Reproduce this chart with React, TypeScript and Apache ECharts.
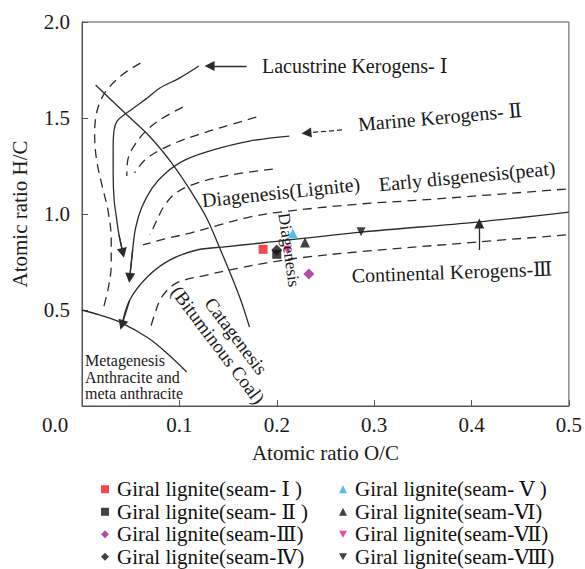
import React, { useEffect, useRef } from 'react';
import * as echarts from 'echarts';

const FONT = 'Liberation Serif, DejaVu Serif, serif';

// Axis ticks
const xTickValues = [0, 0.1, 0.2, 0.3, 0.4, 0.5];
const yTickValues = [0, 0.5, 1.0, 1.5, 2.0];
const cornerLabel = '0.0';

// Sample data (O/C, H/C)
const seamNames = [
  'Giral lignite(seam- Ⅰ )',
  'Giral lignite(seam- Ⅱ )',
  'Giral lignite(seam-Ⅲ)',
  'Giral lignite(seam-Ⅳ)',
  'Giral lignite(seam- Ⅴ )',
  'Giral lignite(seam-Ⅵ)',
  'Giral lignite(seam-Ⅶ)',
  'Giral lignite(seam-Ⅷ)',
];
const seamOC = [0.186, 0.2, 0.233, 0.2, 0.2165, 0.229, 0.211, 0.2866];
const seamHC = [0.816, 0.79, 0.6875, 0.812, 0.899, 0.851, 0.8125, 0.908];
const DOWN = 'path://M0,0L10,0L5,9Z';
const seamSymbols = ['rect', 'rect', 'diamond', 'diamond', 'triangle', 'triangle', DOWN, DOWN];
const seamColors = ['#ee1c24', '#111111', '#a3218e', '#111111', '#29abe2', '#111111', '#ec1b8c', '#111111'];
const seamSizes = [9, 9, 11, 11, 10, 10, 9, 9];

// Van Krevelen background curves (O/C, H/C)
const typeI = [[0.120, 1.771], [0.100, 1.708], [0.080, 1.656], [0.067, 1.604], [0.053, 1.552], [0.043, 1.516], [0.036, 1.484], [0.033, 1.4375], [0.032, 1.349], [0.032, 1.203], [0.033, 1.073], [0.035, 0.995], [0.038, 0.891], [0.042, 0.797]];
const typeII = [[0.213, 1.406], [0.172, 1.380], [0.134, 1.333], [0.1055, 1.281], [0.086, 1.214], [0.072, 1.135], [0.0615, 1.036], [0.055, 0.927], [0.052, 0.8125], [0.049, 0.667]];
const typeIII = [[0.5, 1.010], [0.406, 0.958], [0.287, 0.906], [0.184, 0.849], [0.1445, 0.828], [0.118, 0.8125], [0.090, 0.760], [0.067, 0.672], [0.049, 0.552], [0.041, 0.422]];
const metagenesis = [[0, 0.5], [0.018, 0.474], [0.041, 0.432], [0.068, 0.354], [0.087, 0.276], [0.1076, 0.177]];
const boundary = [[0.014, 1.672], [0.043, 1.531], [0.070, 1.401], [0.092, 1.266], [0.113, 1.109], [0.128, 0.979], [0.141, 0.828], [0.153, 0.682], [0.163, 0.552], [0.172, 0.411]];
const dashA = [[0.060, 1.786], [0.041, 1.724], [0.0256, 1.646], [0.018, 1.578], [0.014, 1.5], [0.013, 1.411], [0.015, 1.281], [0.0205, 1.151], [0.027, 1.010], [0.030, 0.865], [0.030, 0.734], [0.027, 0.615], [0.0215, 0.5]];
const dashB = [[0.1035, 1.557], [0.083, 1.5], [0.0666, 1.4375], [0.054, 1.359], [0.047, 1.281], [0.046, 1.198]];
const dashC = [[0.179, 1.505], [0.1445, 1.453], [0.118, 1.411], [0.098, 1.375], [0.080, 1.333], [0.0645, 1.281], [0.054, 1.214]];
const dashF = [[0.196, 1.234], [0.152, 1.203], [0.118, 1.161], [0.098, 1.115], [0.085, 1.047], [0.077, 0.969], [0.070, 0.891]];
const dashG = [[0.497, 1.130], [0.349, 1.073], [0.285, 1.052], [0.203, 1.010], [0.172, 0.984], [0.141, 0.943], [0.111, 0.901], [0.085, 0.870], [0.0625, 0.839]];
const dashH = [[0.497, 0.891], [0.406, 0.854], [0.282, 0.802], [0.223, 0.771], [0.1895, 0.745], [0.162, 0.719], [0.128, 0.682], [0.0973, 0.641], [0.082, 0.568], [0.075, 0.484], [0.0697, 0.396]];
const lacustrineArrow = [[0.169, 1.771], [0.131, 1.771]];
const marineArrow = [[0.267, 1.438], [0.2305, 1.422]];
const upArrow = [[0.408, 0.8125], [0.408, 0.950]];

const LINE = '#2b2b2b';

function curve(data: number[][], dashed: boolean) {
  return {
    type: 'line',
    data,
    showSymbol: false,
    symbol: 'none',
    smooth: 0.35,
    silent: true,
    z: 1,
    lineStyle: { color: LINE, width: 1.3, type: dashed ? [9, 6] : 'solid' },
  };
}

function arrow(a: number[], b: number[], dashed: boolean) {
  return {
    type: 'lines',
    coordinateSystem: 'cartesian2d',
    symbol: ['none', 'triangle'],
    symbolSize: [5, 10],
    silent: true,
    z: 2,
    lineStyle: { color: LINE, width: 1.3, type: dashed ? [5, 3] : 'solid', opacity: 1 },
    data: [{ coords: [a, b] }],
  };
}

function lastTwo(d: number[][]) {
  return [d[d.length - 2], d[d.length - 1]];
}

function txt(text: string, x: number, y: number, size: number, rotDeg = 0, align = 'center') {
  return {
    type: 'text',
    x,
    y,
    rotation: (rotDeg * Math.PI) / 180,
    z: 5,
    style: { text, fontFamily: FONT, fontSize: size, fill: '#1a1a1a', align, verticalAlign: 'middle' },
  };
}

export default function App() {
  const ref = useRef<HTMLDivElement>(null);
  useEffect(() => {
    if (!ref.current) return;
    const chart = echarts.init(ref.current, null, { renderer: 'svg' });
    const scatter = seamNames.map((name, i) => ({
      type: 'scatter',
      name,
      data: [[seamOC[i], seamHC[i]]],
      symbol: seamSymbols[i],
      symbolSize: seamSizes[i],
      itemStyle: { color: seamColors[i] },
      z: 4,
    }));
    const [t1a, t1b] = lastTwo(typeI);
    const [t2a, t2b] = lastTwo(typeII);
    const [t3a, t3b] = lastTwo(typeIII);
    const legendBase = {
      orient: 'vertical',
      top: 478,
      height: 100,
      padding: 0,
      itemGap: 0,
      itemWidth: 8,
      itemHeight: 8,
      textStyle: { fontFamily: FONT, fontSize: 21, lineHeight: 22.5, color: '#111', padding: [0, 0, 0, 3] },
    };
    chart.setOption({
      animation: false,
      backgroundColor: '#ffffff',
      grid: { left: 82, top: 22, width: 488, height: 384, show: true, borderColor: '#555', borderWidth: 1 },
      xAxis: {
        type: 'value',
        min: xTickValues[0],
        max: xTickValues[xTickValues.length - 1],
        interval: 0.1,
        axisLine: { show: true, lineStyle: { color: '#555' } },
        axisTick: { show: true, inside: true, length: 6, lineStyle: { color: '#555' } },
        splitLine: { show: false },
        axisLabel: {
          formatter: (v: number) => (v === 0 ? '' : v.toFixed(1)),
          fontFamily: FONT, fontSize: 21, color: '#1a1a1a', margin: 8,
        },
        name: 'Atomic ratio O/C',
        nameLocation: 'middle',
        nameGap: 36,
        nameTextStyle: { fontFamily: FONT, fontSize: 21, color: '#1a1a1a' },
      },
      yAxis: {
        type: 'value',
        min: yTickValues[0],
        max: yTickValues[yTickValues.length - 1],
        interval: 0.5,
        axisLine: { show: true, lineStyle: { color: '#555' } },
        axisTick: { show: true, inside: true, length: 6, lineStyle: { color: '#555' } },
        splitLine: { show: false },
        axisLabel: {
          formatter: (v: number) => (v === 0 ? '' : v.toFixed(1)),
          fontFamily: FONT, fontSize: 21, color: '#1a1a1a', margin: 12,
        },
        name: 'Atomic ratio H/C',
        nameLocation: 'middle',
        nameGap: 52,
        nameTextStyle: { fontFamily: FONT, fontSize: 21, color: '#1a1a1a' },
      },
      legend: [
        { ...legendBase, left: 101, data: seamNames.slice(0, 4) },
        { ...legendBase, left: 339, data: seamNames.slice(4) },
      ],
      graphic: [
        txt(cornerLabel, 55, 425, 21),
        txt('Lacustrine Kerogens- Ⅰ', 262, 66, 20, 0, 'left'),
        txt('Marine Kerogens- Ⅱ', 440, 117, 20, 5),
        txt('Diagenesis(Lignite)', 281, 192, 20, 6),
        txt('Early disgenesis(peat)', 467, 176, 20, 5.4),
        txt('Continental Kerogens-Ⅲ', 452, 272, 20, 2),
        txt('Diagenesis', 289, 250, 17, -82),
        txt('Catagenesis', 236, 336, 19, -53),
        txt('(Bituminous Coal)', 218, 345, 19, -53),
        txt('Metagenesis', 85, 360, 16, 0, 'left'),
        txt('Anthracite and', 85, 377, 16, 0, 'left'),
        txt('meta anthracite', 85, 393, 16, 0, 'left'),
      ],
      series: [
        curve(typeI, false),
        curve(typeII, false),
        curve(typeIII, false),
        curve(metagenesis, false),
        curve(boundary, false),
        curve(dashA, true),
        curve(dashB, true),
        curve(dashC, true),
        curve(dashF, true),
        curve(dashG, true),
        curve(dashH, true),
        arrow(t1a, t1b, false),
        arrow(t2a, t2b, false),
        arrow(t3a, t3b, false),
        arrow(lacustrineArrow[0], lacustrineArrow[1], false),
        arrow(marineArrow[0], marineArrow[1], true),
        arrow(upArrow[0], upArrow[1], false),
        ...scatter,
      ],
    });
    return () => chart.dispose();
  }, []);
  return <div ref={ref} style={{ position: 'fixed', left: 0, top: 0, width: 585, height: 569, background: '#fff' }} />;
}
